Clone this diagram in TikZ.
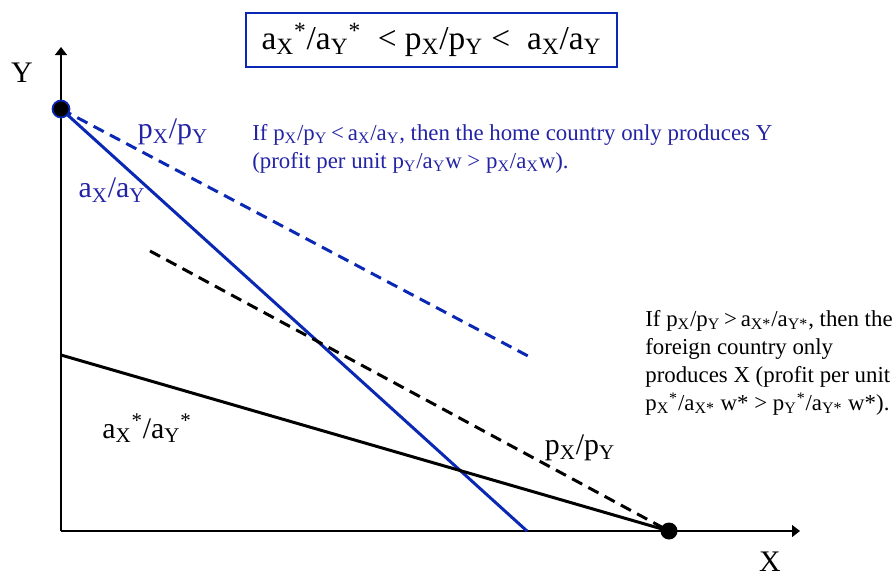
\documentclass[tikz,border=0pt]{standalone}
\usepackage{fontspec}
\setmainfont{Liberation Serif}
\usetikzlibrary{arrows.meta}
\definecolor{lnblue}{RGB}{10,40,180}
\definecolor{txtblue}{RGB}{35,35,165}
\newcommand{\sbs}[1]{\textsubscript{#1}}
\newcommand{\sps}[1]{\textsuperscript{#1}}
\tikzset{
  axarr/.style={-{Triangle[length=0.16cm,width=0.24cm]},line width=0.75pt},
  homeln/.style={lnblue,line width=1.7pt},
  homepr/.style={homeln,dash pattern=on 6.5pt off 4pt},
  frnln/.style={black,line width=1.7pt},
  frnpr/.style={frnln,dash pattern=on 6.5pt off 4pt},
  dot/.style={circle,fill=black,inner sep=0pt,minimum size=0.34cm},
  lbl/.style={font=\fontsize{17}{20}\selectfont,inner sep=0pt},
  note/.style={font=\fontsize{13}{16}\selectfont,align=left,inner sep=0pt,anchor=north west}
}
\begin{document}
\begin{tikzpicture}[x=0.02cm,y=-0.02cm]
  \useasboundingbox (0,0) rectangle (892,576);
  % Axes
  \coordinate (O) at (61,531);
  \coordinate (ytip) at (61,47);
  \coordinate (xtip) at (800,531);
  \draw[axarr] (O) -- (ytip);
  \draw[axarr] (O) -- (xtip);
  \node[lbl] (ylab) at (22,73) {Y};
  \node[lbl] (xlab) at (770,562) {X};

  % Endpoints
  \coordinate (home) at (61,109);
  \coordinate (foreign) at (669,531);
  \coordinate (aend) at (527,531);
  \coordinate (pend) at (528,356);
  \coordinate (fstart) at (61,355);
  \coordinate (qstart) at (150,251);

  % Home country lines
  \draw[homeln] (home) -- (aend);
  \draw[homepr] (home) -- (pend);
  % Foreign country lines
  \draw[frnln] (fstart) -- (foreign);
  \draw[frnpr] (qstart) -- (foreign);

  % Dots
  \node[dot, draw=lnblue, line width=1pt] (homedot) at (home) {};
  \node[dot] (frndot) at (foreign) {};

  % Line labels
  \node[lbl, text=txtblue] (hp) at (173,132) {p\sbs{X}/p\sbs{Y}};
  \node[lbl, text=txtblue] (ha) at (112,190) {a\sbs{X}/a\sbs{Y}};
  \node[lbl] (fa) at (147,428) {a\sbs{X}\sps{*}/a\sbs{Y}\sps{*}};
  \node[lbl] (fp) at (580,448) {p\sbs{X}/p\sbs{Y}};

  % Title box
  \node[draw=lnblue, line width=0.8pt, minimum width=7.42cm, minimum height=1.08cm,
        font=\fontsize{19}{23}\selectfont] (cond) at (431.5,40)
        {a\sbs{X}\sps{*}/a\sbs{Y}\sps{*} \ \textless\ p\sbs{X}/p\sbs{Y} \textless\ \ a\sbs{X}/a\sbs{Y}};

  % Notes
  \node[note, text=txtblue] (homenote) at (252,124)
    {If p\sbs{X}/p\sbs{Y}\,\textless\,a\sbs{X}/a\sbs{Y}, then the home country only produces Y\\
     (profit per unit p\sbs{Y}/a\sbs{Y}w \textgreater\ p\sbs{X}/a\sbs{X}w).};
  \node[note] (frnnote) at (645,310)
    {If p\sbs{X}/p\sbs{Y}\,\textgreater\,a\sbs{X*}/a\sbs{Y*}, then the\\
     foreign country only\\
     produces X (profit per unit\\
     p\sbs{X}\sps{*}/a\sbs{X*} w* \textgreater\ p\sbs{Y}\sps{*}/a\sbs{Y*} w*).};
\end{tikzpicture}
\end{document}
